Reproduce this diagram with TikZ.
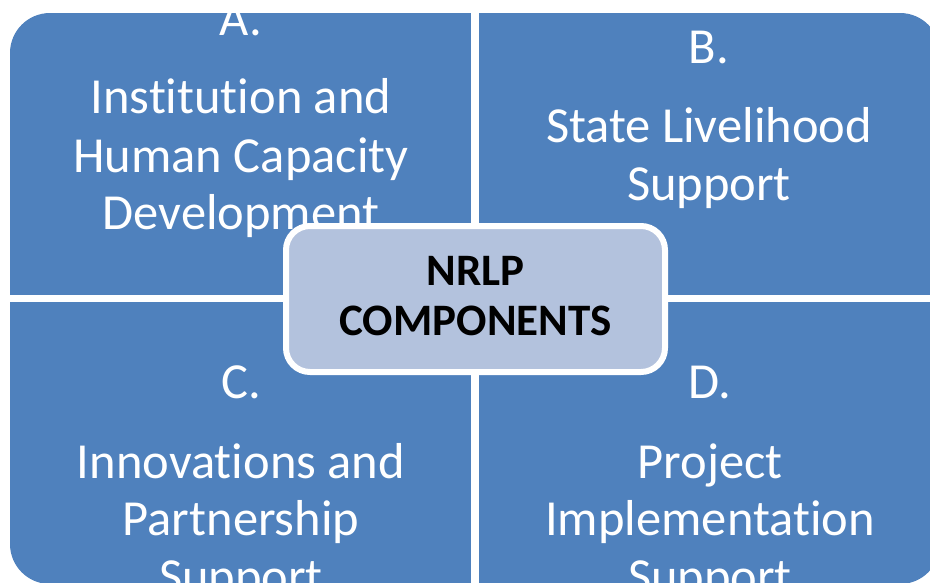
\documentclass[tikz,border=0pt]{standalone}
\usepackage{fontspec}
\setmainfont[Ligatures={NoCommon}]{Carlito}
\definecolor{qblue}{HTML}{4F81BD}
\definecolor{cfill}{HTML}{B3C2DD}
\tikzset{
  qtext/.style={anchor=base, text=white, inner sep=0pt, font=\fontsize{50.5}{58}\selectfont},
  ctext/.style={anchor=base, text=black, inner sep=0pt, font=\fontsize{45}{50}\selectfont\bfseries},
}
\begin{document}
\begin{tikzpicture}[x=1pt,y=-1pt]
\useasboundingbox (0,0) rectangle (930,582);
\clip (0,0) rectangle (930,582);
% quadrants: one rounded block split by white gaps
\fill[qblue, rounded corners=40] (10,13) rectangle (940,584);
\fill[white] (471,0) rectangle (479,590);
\fill[white] (0,295) rectangle (940,302);
% quadrant A
\node[qtext] (a0) at (241,35) {A.};
\node[qtext] (a1) at (241,113) {Institution and};
\node[qtext] (a2) at (241,172) {Human Capacity};
\node[qtext] (a3) at (241,229) {Development};
% quadrant B
\node[qtext] (b0) at (709,63) {B.};
\node[qtext] (b1) at (709,142) {State Livelihood};
\node[qtext] (b2) at (709,200) {Support};
% quadrant C
\node[qtext] (c0) at (241,398) {C.};
\node[qtext] (c1) at (241,478) {Innovations and};
\node[qtext] (c2) at (241,535) {Partnership};
\node[qtext] (c3) at (241,593) {Support};
% quadrant D
\node[qtext] (d0) at (710,398) {D.};
\node[qtext] (d1) at (710,478) {Project};
\node[qtext] (d2) at (710,535) {Implementation};
\node[qtext] (d3) at (710,593) {Support};
% centre box
\draw[white, line width=6pt, fill=cfill, rounded corners=24] (286,226) rectangle (665,372);
\node[ctext] (n1) at (475.5,285) {NRLP};
\node[ctext] (n2) at (475.5,335) {COMPONENTS};
\end{tikzpicture}
\end{document}
